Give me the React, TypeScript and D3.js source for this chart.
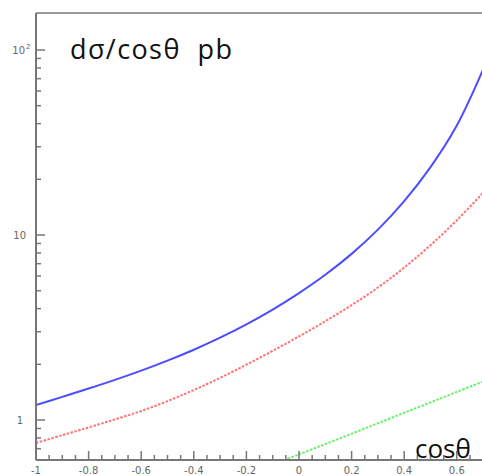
import React from "react";
import * as d3 from "d3";

const W = 482;
const H = 476;

// cosθ grid
const cosGrid = [-1.0, -0.9, -0.8, -0.7, -0.6, -0.5, -0.4, -0.3, -0.2, -0.1, 0.0, 0.1, 0.2, 0.3, 0.4, 0.5, 0.6, 0.7];
// blue (solid) series, pb
const blueValues = [1.205, 1.334, 1.479, 1.648, 1.849, 2.094, 2.399, 2.786, 3.289, 3.954, 4.853, 6.095, 7.907, 10.69, 15.24, 23.28, 39.08, 78.5];
// red (dashed) series, pb
const redValues = [0.752, 0.828, 0.912, 1.007, 1.119, 1.265, 1.452, 1.69, 1.991, 2.366, 2.831, 3.42, 4.178, 5.2, 6.668, 8.81, 12.02, 16.9];
// green (dashed) series
const greenCos = [-0.1, 0.0, 0.1, 0.2, 0.3, 0.4, 0.5, 0.6, 0.7];
const greenValues = [0.573, 0.652, 0.741, 0.843, 0.961, 1.094, 1.245, 1.419, 1.614];

const xTickValues = [-1, -0.8, -0.6, -0.4, -0.2, 0, 0.2, 0.4, 0.6];
const xTickLabels = ["-1", "-0.8", "-0.6", "-0.4", "-0.2", "0", "0.2", "0.4", "0.6"];
const xDomain = [-1, 1];
const yDomain = [0.608, 158.5];
const yMajor = [1, 10, 100];

const left = 36;
const top = 13;
const bottom = 460;
const right = 562;

export default function App() {
  const x = d3.scaleLinear().domain(xDomain).range([left, right]);
  const y = d3.scaleLog().domain(yDomain).range([bottom, top]);

  const line = d3
    .line<[number, number]>()
    .x((d) => x(d[0]))
    .y((d) => y(d[1]))
    .curve(d3.curveCatmullRom.alpha(0.5));

  const blue = line(cosGrid.map((c, i) => [c, blueValues[i]] as [number, number]));
  const red = line(cosGrid.map((c, i) => [c, redValues[i]] as [number, number]));
  const green = line(greenCos.map((c, i) => [c, greenValues[i]] as [number, number]));

  const xMinor = d3.range(0, 41).map((i) => -1 + i * 0.05);
  const yMinor: number[] = [];
  [0.1, 1, 10, 100].forEach((dec) => {
    for (let k = 2; k <= 9; k++) {
      const v = dec * k;
      if (v >= yDomain[0] && v <= yDomain[1]) yMinor.push(v);
    }
  });

  const axisColor = "#777";
  const labelColor = "#666";

  return (
    <svg
      width={W}
      height={H}
      style={{ position: "absolute", left: 0, top: 0, background: "#fff" }}
      fontFamily="DejaVu Sans, sans-serif"
    >
      <defs>
        <clipPath id="plot">
          <rect x={left} y={top} width={right - left} height={bottom - top} />
        </clipPath>
      </defs>
      <rect x={0} y={0} width={W} height={H} fill="#fff" />

      {/* curves */}
      <g clipPath="url(#plot)" fill="none">
        <path d={blue || ""} stroke="#4d4dff" strokeWidth={2} />
        <path d={red || ""} stroke="#ff5a5a" strokeWidth={2} strokeDasharray="2.5,1.5" opacity={0.85} />
        <path d={green || ""} stroke="#4cee4c" strokeWidth={2} strokeDasharray="2.5,1.5" opacity={0.85} />
      </g>

      {/* frame */}
      <line x1={left} x2={right} y1={top} y2={top} stroke="#999" strokeWidth={2} />
      <line x1={left} x2={left} y1={top} y2={bottom} stroke={axisColor} strokeWidth={2} />
      <line x1={left} x2={right} y1={bottom} y2={bottom} stroke={axisColor} strokeWidth={2} />

      {/* x ticks */}
      {xMinor.map((v, i) => {
        const major = i % 4 === 0;
        return (
          <line
            key={"xt" + i}
            x1={x(v)}
            x2={x(v)}
            y1={bottom}
            y2={bottom - (major ? 9 : 5)}
            stroke={axisColor}
            strokeWidth={1.5}
          />
        );
      })}
      {xTickValues.map((v, i) => (
        <text
          key={"xl" + i}
          x={x(v)}
          y={474}
          fontSize={10}
          fill={labelColor}
          textAnchor="middle"
        >
          {xTickLabels[i]}
        </text>
      ))}

      {/* y ticks */}
      {yMinor.map((v, i) => (
        <line key={"ym" + i} x1={left} x2={left + 5} y1={y(v)} y2={y(v)} stroke={axisColor} strokeWidth={1.5} />
      ))}
      {yMajor.map((v, i) => (
        <line key={"yM" + i} x1={left} x2={left + 9} y1={y(v)} y2={y(v)} stroke={axisColor} strokeWidth={1.5} />
      ))}
      <text x={23} y={y(1) + 3.5} fontSize={10} fill={labelColor} textAnchor="end">1</text>
      <text x={26} y={y(10) + 3.5} fontSize={10} fill={labelColor} textAnchor="end">10</text>
      <text x={25} y={y(100) + 3.5} fontSize={10} fill={labelColor} textAnchor="end">10</text>
      <text x={26} y={y(100) - 1} fontSize={7} fill={labelColor} textAnchor="start">2</text>

      {/* titles */}
      <text x={70} y={59} fontSize={27} fill="#111" fontFamily="Open Sans, sans-serif" letterSpacing={1.4} xmlSpace="preserve">
        dσ/cosθ  pb
      </text>
      <text x={415} y={458} fontSize={26} fill="#111" fontFamily="Open Sans, sans-serif">
        cosθ
      </text>
    </svg>
  );
}
